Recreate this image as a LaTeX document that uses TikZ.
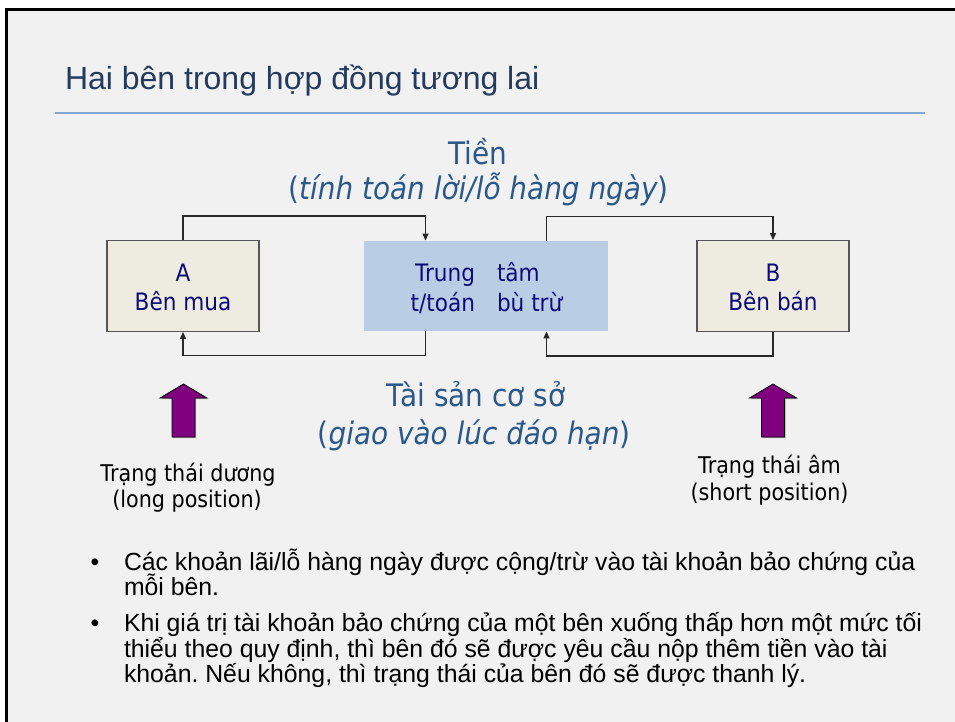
\documentclass[tikz,border=0pt]{standalone}
\usepackage{fontspec}
\setmainfont{Liberation Sans}
\newfontfamily\tah[FakeStretch=0.9]{DejaVu Sans}
\usetikzlibrary{arrows.meta,calc}
\frenchspacing
\definecolor{bgc}{RGB}{241,241,241}
\definecolor{titlec}{RGB}{36,58,94}
\definecolor{rulec}{RGB}{130,168,210}
\definecolor{bluet}{RGB}{42,88,138}
\definecolor{navyt}{RGB}{10,10,120}
\definecolor{beige}{RGB}{238,236,225}
\definecolor{lblue}{RGB}{185,205,229}
\definecolor{boxline}{RGB}{85,85,85}
\definecolor{connc}{RGB}{40,40,40}
\definecolor{purp}{RGB}{128,0,128}
\tikzset{
  party/.style={draw=boxline, line width=1.4pt, fill=beige, minimum width=152pt, minimum height=90.5pt, inner sep=0pt},
  house/.style={fill=lblue, minimum width=244pt, minimum height=90.5pt, inner sep=0pt},
  txt/.style={inner sep=0pt, outer sep=0pt},
  conn/.style={draw=connc, line width=1.3pt, -{Triangle[length=7pt,width=6pt]}},
  bigt/.style={txt, font=\tah\fontsize{31}{37}\selectfont, text=bluet, anchor=base},
  boxt/.style={txt, font=\tah\fontsize{24}{29}\selectfont, text=navyt},
  post/.style={txt, font=\tah\fontsize{23}{27}\selectfont, text=black, anchor=base},
  bul/.style={txt, font=\fontsize{24.8}{26}\selectfont, text=black, anchor=base west},
  fatarrow/.style={fill=purp, draw=black, line width=0.8pt}
}
\begin{document}
\begin{tikzpicture}[x=1pt,y=-1pt]
\useasboundingbox (0,0) rectangle (955,722);
\fill[white] (0,0) rectangle (955,722);
\fill[bgc] (5,8) rectangle (955,722);
\fill[black] (5,8) rectangle (955,11);
\fill[black] (5,8) rectangle (8,722);

% title
\node[txt, anchor=base west, font=\fontsize{32}{38}\selectfont, text=titlec] (title) at (65,90) {Hai bên trong hợp đồng tương lai};
\draw[rulec, line width=1.3pt] (55,113) -- (925,113);

% money label
\node[bigt] (tien) at (477.5,164.3) {Tiền};
\node[bigt] (tien2) at (478.5,200) {(\textit{tính toán lời/lỗ hàng ngày})};

% boxes
\node[party] (A) at (183,286) {};
\node[house] (C) at (486,286) {};
\node[party] (B) at (773,286) {};

\node[boxt, anchor=base] (Aa) at (183,281.7) {A};
\node[boxt, anchor=base] (Ab) at (183,310) {Bên mua};
\node[boxt, anchor=base] (Ba) at (773,281.7) {B};
\node[boxt, anchor=base] (Bb) at (773,310) {Bên bán};
\node[boxt, anchor=base east] (C1) at (475,281.7) {Trung};
\node[boxt, anchor=base east] (C2) at (475,311) {t/toán};
\node[boxt, anchor=base west] (C3) at (497,281.7) {tâm};
\node[boxt, anchor=base west] (C4) at (497,311) {bù trừ};

% connectors
\draw[conn] (A.north) -- ++(0,-24) -| ([xshift=-60.5pt]C.north);
\draw[conn] ([xshift=60.5pt]C.north) -- ++(0,-24) -| (B.north);
\draw[conn] ([xshift=-60.5pt]C.south) -- ++(0,24) -| (A.south);
\draw[conn] (B.south) -- ++(0,24) -| ([xshift=60.5pt]C.south);

% asset label
\node[bigt] (tai) at (476,406) {Tài sản cơ sở};
\node[bigt] (tai2) at (474,444) {(\textit{giao vào lúc đáo hạn})};

% purple arrows
\foreach \cx/\nm in {183.5/L,773/R}{
  \fill[gray!70] (\cx+1.2,385.2) -- (\cx+24.7,399.2) -- (\cx+12.7,399.2) -- (\cx+12.7,438.2) -- (\cx-10.3,438.2) -- (\cx-10.3,399.2) -- (\cx-22.3,399.2) -- cycle;
  \draw[fatarrow] (\cx,384) -- (\cx+23.5,398) -- (\cx+11.5,398) -- (\cx+11.5,437) -- (\cx-11.5,437) -- (\cx-11.5,398) -- (\cx-23.5,398) -- cycle;
}

% position labels
\node[post] (l1) at (188,481) {Trạng thái dương};
\node[post] (l2) at (187,507) {(long position)};
\node[post] (r1) at (769.5,473) {Trạng thái âm};
\node[post] (r2) at (769.5,500) {(short position)};

% bullets
\node[bul, anchor=base] (d1) at (95,570) {•};
\node[bul] (t11) at (124,570) {Các khoản lãi/lỗ hàng ngày được cộng/trừ vào tài khoản bảo chứng của};
\node[bul] (t12) at (124,595.5) {mỗi bên.};
\node[bul, anchor=base] (d2) at (95,631) {•};
\node[bul] (t21) at (124,631) {Khi giá trị tài khoản bảo chứng của một bên xuống thấp hơn một mức tối};
\node[bul] (t22) at (124,657) {thiểu theo quy định, thì bên đó sẽ được yêu cầu nộp thêm tiền vào tài};
\node[bul] (t23) at (124,682.5) {khoản. Nếu không, thì trạng thái của bên đó sẽ được thanh lý.};
\end{tikzpicture}
\end{document}
